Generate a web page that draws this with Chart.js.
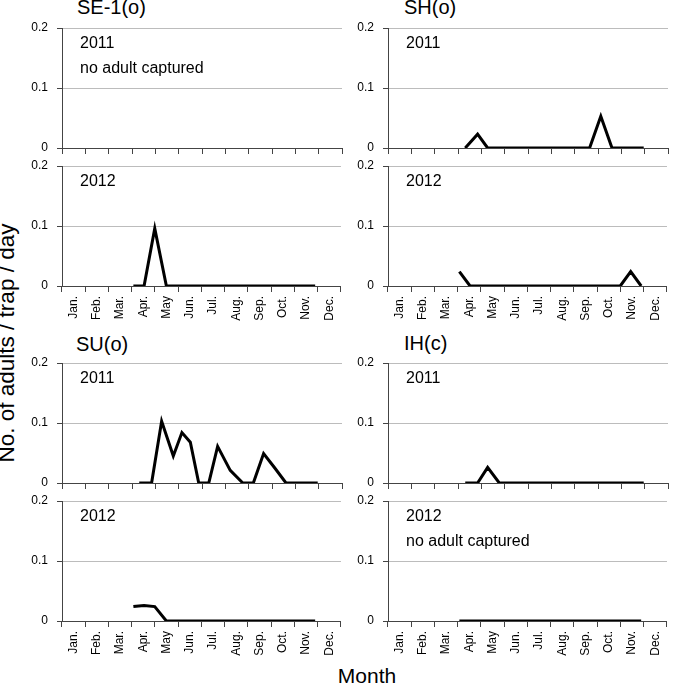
<!DOCTYPE html>
<html>
<head>
<meta charset="utf-8">
<script src="https://cdn.jsdelivr.net/npm/chart.js@4.4.1/dist/chart.umd.min.js"></script>
<style>
    body { margin: 0; background: #fff; }
    #wrap { position: relative; width: 685px; height: 685px; overflow: hidden; font-family: 'Liberation Sans', Arial, sans-serif; }
    #wrap canvas { position: absolute; }
    .title { position: absolute; font-size: 20px; line-height: 20px; white-space: nowrap; color: #000; }
    #yTitle { position: absolute; width: 320px; font-size: 22.5px; line-height: 22px; text-align: center; white-space: nowrap; transform: rotate(-90deg); }
    #xTitle { position: absolute; width: 200px; font-size: 21px; line-height: 21px; text-align: center; }
</style>
</head>
<body>
<div id="wrap">
    <div class="title" style="left:77px; top:-3px;">SE-1(o)</div>
    <div class="title" style="left:404px; top:-3px;">SH(o)</div>
    <div class="title" style="left:76px; top:334px;">SU(o)</div>
    <div class="title" style="left:404px; top:333px;">IH(c)</div>
    <div id="yTitle" style="left:-153px; top:332px;">No. of adults / trap / day</div>
    <div id="xTitle" style="left:267px; top:665px;">Month</div>
</div>
<script>
const FONT = "'Liberation Sans', Arial, sans-serif";

const MONTHS = ['Jan.', 'Feb.', 'Mar.', 'Apr.', 'May', 'Jun.', 'Jul.', 'Aug.', 'Sep.', 'Oct.', 'Nov.', 'Dec.'];

// sampling dates, in months from 1 Jan
const DATES_2011 = [3.31, 3.84, 4.27, 4.77, 5.14, 5.50, 5.86, 6.29, 6.67, 7.21, 7.75, 8.20, 8.64, 9.12, 9.60, 10.05, 10.50, 10.96];
const DATES_2012 = [3.07, 3.53, 3.99, 4.49, 4.95, 5.45, 5.95, 6.45, 6.95, 7.45, 7.95, 8.45, 8.97, 9.47, 9.99, 10.44, 10.89];

// adults / trap / day
const SE1_2011 = [];
const SE1_2012 = [0, 0, 0.096, 0, 0, 0, 0, 0, 0, 0, 0, 0, 0, 0, 0, 0, 0];
const SH_2011 = [0, 0.023, 0, 0, 0, 0, 0, 0, 0, 0, 0, 0, 0, 0.053, 0, 0, 0, 0];
const SH_2012 = [0.024, 0, 0, 0, 0, 0, 0, 0, 0, 0, 0, 0, 0, 0, 0, 0.024, 0];
const SU_2011 = [0, 0, 0.103, 0.045, 0.084, 0.068, 0, 0, 0.061, 0.021, 0, 0, 0.049, 0.025, 0, 0, 0, 0];
const SU_2012 = [0.024, 0.026, 0.024, 0, 0, 0, 0, 0, 0, 0, 0, 0, 0, 0, 0, 0, 0];
const IH_2011 = [0, 0, 0.026, 0, 0, 0, 0, 0, 0, 0, 0, 0, 0, 0, 0, 0, 0, 0];
const IH_2012 = [0, 0, 0, 0, 0, 0, 0, 0, 0, 0, 0, 0, 0, 0, 0, 0, 0];

const Y_AXIS_W = 50;
const PAD_TOP = 18;
const PAD_RIGHT = 6;
const AREA_W = 280;
const AREA_H = 120;

const panelNote = {
    id: 'panelNote',
    afterDraw(chart, args, opts) {
        let ctx = chart.ctx;
        let area = chart.chartArea;
        ctx.save();
        ctx.font = '16px ' + FONT;
        ctx.fillStyle = '#000';
        ctx.textBaseline = 'alphabetic';
        (opts.lines || []).forEach((t, i) => {
            ctx.fillText(t, area.left + 18, area.top + 20 + i * 25);
        });
        ctx.restore();
    }
};

function makePanel(areaLeft, areaTop, dates, values, notes, showLabels){
    let xh = showLabels ? 40 : 18;
    let canvas = document.createElement('canvas');
    canvas.width = Y_AXIS_W + AREA_W + PAD_RIGHT;
    canvas.height = PAD_TOP + AREA_H + xh;
    canvas.style.left = (areaLeft - Y_AXIS_W) + 'px';
    canvas.style.top = (areaTop - PAD_TOP) + 'px';
    document.getElementById('wrap').appendChild(canvas);

    let points = values.map((v, i) => ({x: dates[i], y: v}));

    new Chart(canvas.getContext('2d'), {
        type: 'line',
        data: {
            datasets: [{
                data: points,
                xAxisID: 'xd',
                yAxisID: 'y',
                borderColor: '#000',
                borderWidth: 3,
                borderJoinStyle: 'miter',
                pointRadius: 0,
                tension: 0,
                fill: false,
            }]
        },
        options: {
            responsive: false,
            maintainAspectRatio: false,
            animation: false,
            layout: { padding: { top: PAD_TOP, right: PAD_RIGHT, left: 0, bottom: 0 } },
            plugins: {
                legend: { display: false },
                tooltip: { enabled: false },
                panelNote: { lines: notes },
            },
            scales: {
                x: {
                    type: 'category',
                    labels: MONTHS,
                    offset: true,
                    position: 'bottom',
                    grid: { offset: true, drawOnChartArea: false, drawTicks: true, tickLength: 6, color: '#444' },
                    border: { color: '#444', width: 1 },
                    ticks: {
                        display: showLabels,
                        maxRotation: 90,
                        minRotation: 90,
                        padding: 4,
                        color: '#000',
                        font: { size: 12, family: FONT },
                    },
                    afterFit: (s) => { s.height = xh; },
                },
                xd: { type: 'linear', min: 0, max: 12, display: false },
                y: {
                    min: 0,
                    max: 0.2,
                    ticks: { stepSize: 0.1, padding: 9, color: '#000', font: { size: 12, family: FONT } },
                    grid: {
                        color: (c) => (c.tick && c.tick.value === 0) ? 'rgba(0,0,0,0)' : '#bcbcbc',
                        tickColor: '#444',
                        tickLength: 5,
                    },
                    border: { color: '#444', width: 1 },
                    afterFit: (s) => { s.width = Y_AXIS_W; },
                },
            },
        },
        plugins: [panelNote],
    });
}

window.onload = function(){
    makePanel(62, 28, DATES_2011, SE1_2011, ['2011', 'no adult captured'], false);
    makePanel(62, 166, DATES_2012, SE1_2012, ['2012'], true);
    makePanel(388, 28, DATES_2011, SH_2011, ['2011'], false);
    makePanel(388, 166, DATES_2012, SH_2012, ['2012'], true);
    makePanel(62, 363, DATES_2011, SU_2011, ['2011'], false);
    makePanel(62, 501, DATES_2012, SU_2012, ['2012'], true);
    makePanel(388, 363, DATES_2011, IH_2011, ['2011'], false);
    makePanel(388, 501, DATES_2012, IH_2012, ['2012', 'no adult captured'], true);
};
</script>
</body>
</html>
